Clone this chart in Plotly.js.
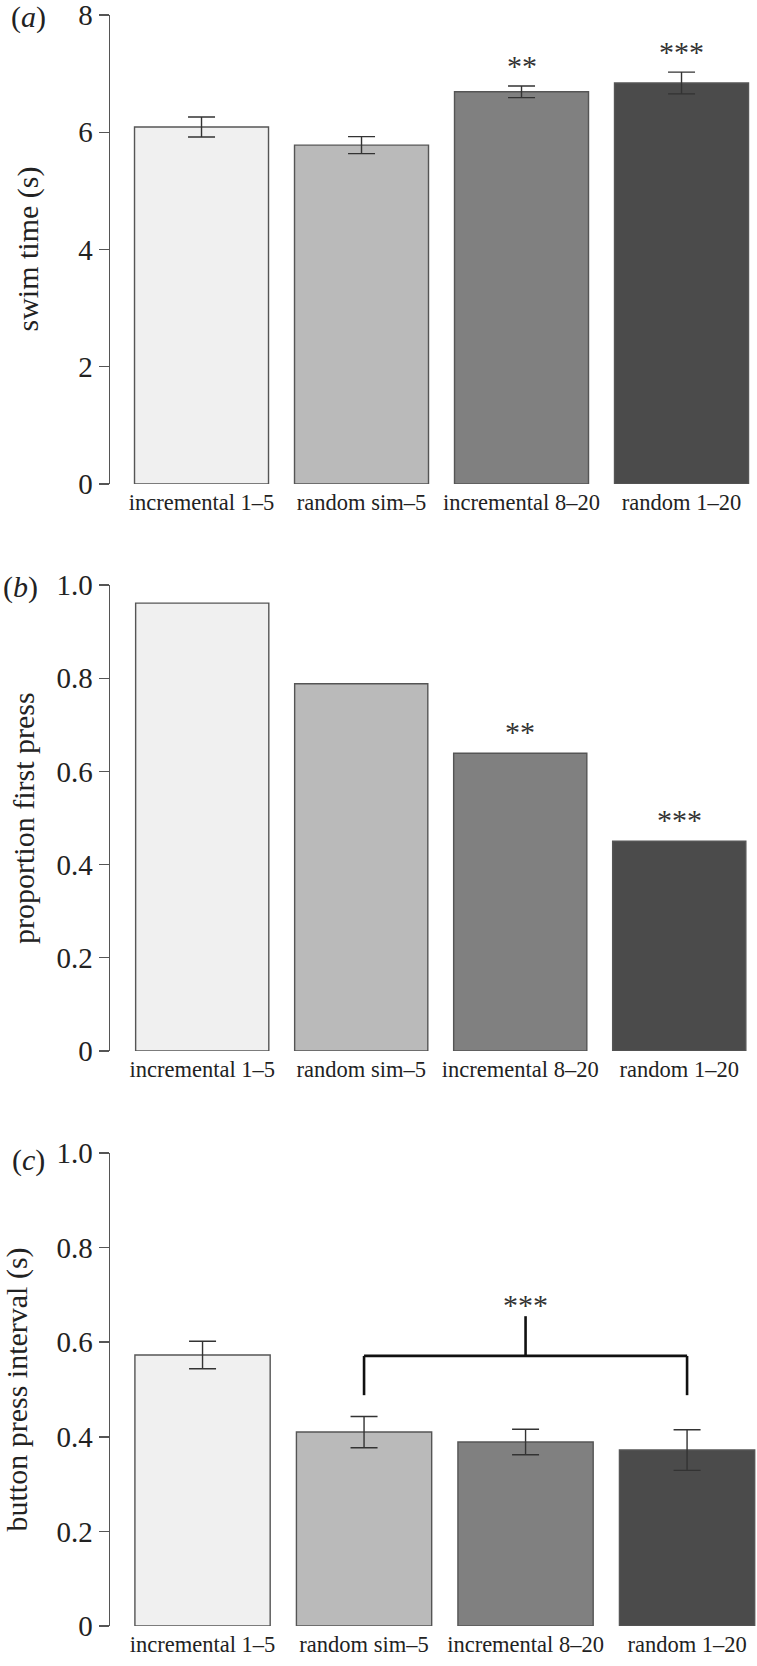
<!DOCTYPE html>
<html>
<head>
<meta charset="utf-8">
<script src="https://cdn.plot.ly/plotly-3.0.1.min.js"></script>
<style>
  html, body { margin: 0; padding: 0; background: #fff; }
  #chart { width: 757px; height: 1666px; }
</style>
</head>
<body>
<div id="chart"></div>
<script>
// ---- data ----
const categories = ["incremental 1–5", "random sim–5", "incremental 8–20", "random 1–20"];
const barColors = ["#f0f0f0", "#bababa", "#808080", "#4b4b4b"];

const swimTime = [6.09, 5.78, 6.69, 6.84];
const swimTimeErr = [0.17, 0.145, 0.10, 0.185];
const swimStars = ["", "", "**", "***"];

const firstPress = [0.961, 0.788, 0.639, 0.45];
const firstPressStars = ["", "", "**", "***"];

const pressInterval = [0.573, 0.410, 0.389, 0.372];
const pressIntervalErr = [0.029, 0.033, 0.027, 0.043];
const bracketGroup = [1, 2, 3];   // indices of bars joined by the bracket
const bracketLabel = "***";

const ticksA = [0, 2, 4, 6, 8];
const ticksAText = ["0", "2", "4", "6", "8"];
const ticksB = [0, 0.2, 0.4, 0.6, 0.8, 1.0];
const ticksBText = ["0", "0.2", "0.4", "0.6", "0.8", "1.0"];

const yTitles = ["swim time (s)", "proportion first press", "button press interval (s)"];
const panelLabels = ["(<i>a</i>)", "(<i>b</i>)", "(<i>c</i>)"];

// ---- style ----
const FONT = "Liberation Serif, Times New Roman, serif";
const AX = "#555";
const TXT = "#222";
const W = 757, H = 1666;

function yDomain(zeroPx, topPx) { return [(H - zeroPx) / H, (H - topPx) / H]; }

function barTrace(vals, errs, xa, ya) {
  const t = {
    type: "bar", x: categories, y: vals, xaxis: xa, yaxis: ya,
    marker: { color: barColors, line: { color: AX, width: 1.4 } },
    showlegend: false, hoverinfo: "skip"
  };
  if (errs) t.error_y = { type: "data", array: errs, visible: true, color: "#333", thickness: 1.4, width: 13.5 };
  return t;
}

const data = [
  barTrace(swimTime, swimTimeErr, "x", "y"),
  barTrace(firstPress, null, "x2", "y2"),
  barTrace(pressInterval, pressIntervalErr, "x3", "y3")
];

function xAxis(domain, range, anchor) {
  return {
    domain: domain, range: range, anchor: anchor, type: "category",
    showline: false, ticks: "", showgrid: false, zeroline: false,
    tickfont: { family: FONT, size: 22.5, color: TXT }, ticklabelstandoff: 2,
    ticklabeloverflow: "allow", fixedrange: true
  };
}
function yAxis(domain, range, tv, tt, anchor) {
  return {
    domain: domain, range: range, anchor: anchor,
    showline: true, linecolor: AX, linewidth: 1.4,
    ticks: "outside", ticklen: 10, tickwidth: 1.4, tickcolor: AX,
    tickvals: tv, ticktext: tt, showgrid: false, zeroline: false,
    tickfont: { family: FONT, size: 29, color: TXT }, ticklabelstandoff: 0,
    ticklabeloverflow: "allow", fixedrange: true
  };
}

const xdomAB = [110 / W, 750 / W];
const xdomC = [110 / W, 757 / W];
const domA = yDomain(484, 15), domB = yDomain(1051, 585), domC = yDomain(1626, 1153);

const annotations = [];
const shapes = [];

// panel labels
[[17, 9], [587, 1], [1160, 10]].forEach(([yc, xl], i) => {
  annotations.push({
    text: panelLabels[i], xref: "paper", yref: "paper", x: xl / W, y: (H - yc) / H,
    xanchor: "left", yanchor: "middle", showarrow: false,
    font: { family: FONT, size: 30, color: TXT }
  });
});

// y-axis titles (rotated text centred on each axis)
[[domA, 27], [domB, 23], [domC, 16]].forEach(([dom, xc], i) => {
  annotations.push({
    text: yTitles[i], xref: "paper", yref: "paper", x: xc / W, y: (dom[0] + dom[1]) / 2,
    xanchor: "center", yanchor: "middle", textangle: -90, showarrow: false,
    font: { family: FONT, size: 30, color: TXT }
  });
});

const starFont = { family: FONT, size: 30, color: "#333" };
// stars, panel a
swimStars.forEach((s, i) => {
  if (!s) return;
  annotations.push({
    text: s, xref: "x", yref: "y", x: categories[i], y: swimTime[i] + swimTimeErr[i],
    yanchor: "bottom", yshift: 2, showarrow: false, font: starFont
  });
});
// stars, panel b
firstPressStars.forEach((s, i) => {
  if (!s) return;
  annotations.push({
    text: s, xref: "x2", yref: "y2", x: categories[i], y: firstPress[i],
    yanchor: "bottom", yshift: 3, showarrow: false, font: starFont
  });
});

// bracket, panel c
const grpTop = Math.max(...bracketGroup.map(i => pressInterval[i] + pressIntervalErr[i]));
const footY = grpTop + 0.045, barY = grpTop + 0.128, stemY = grpTop + 0.212;
const xl = bracketGroup[0], xr = bracketGroup[bracketGroup.length - 1], xm = (xl + xr) / 2;
const br = { color: "#111", width: 2.6 };
shapes.push({ type: "line", xref: "x3", yref: "y3", x0: xl, x1: xr, y0: barY, y1: barY, line: br });
shapes.push({ type: "line", xref: "x3", yref: "y3", x0: xl, x1: xl, y0: barY, y1: footY, line: br });
shapes.push({ type: "line", xref: "x3", yref: "y3", x0: xr, x1: xr, y0: barY, y1: footY, line: br });
shapes.push({ type: "line", xref: "x3", yref: "y3", x0: xm, x1: xm, y0: barY, y1: stemY, line: br });
annotations.push({
  text: bracketLabel, xref: "x3", yref: "y3", x: xm, y: stemY,
  yanchor: "bottom", yshift: -7, showarrow: false, font: starFont
});

const layout = {
  width: W, height: H,
  margin: { l: 0, r: 0, t: 0, b: 0, pad: 0 },
  paper_bgcolor: "#fff", plot_bgcolor: "#fff",
  bargap: 0.1625,
  font: { family: FONT, color: TXT },
  xaxis: xAxis(xdomAB, [-0.572, 3.428], "y"),
  yaxis: yAxis(domA, [0, 8], ticksA, ticksAText, "x"),
  xaxis2: xAxis(xdomAB, [-0.58, 3.445], "y2"),
  yaxis2: yAxis(domB, [0, 1], ticksB, ticksBText, "x2"),
  xaxis3: xAxis(xdomC, [-0.573, 3.433], "y3"),
  yaxis3: yAxis(domC, [0, 1], ticksB, ticksBText, "x3"),
  annotations: annotations,
  shapes: shapes
};

Plotly.newPlot("chart", data, layout, { staticPlot: true, displayModeBar: false });
</script>
</body>
</html>
